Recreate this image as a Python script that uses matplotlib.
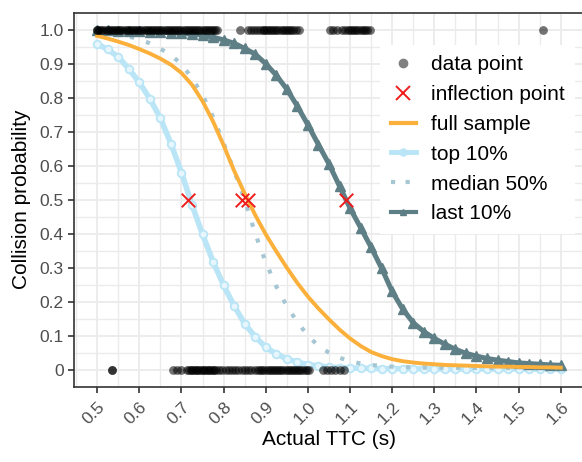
import numpy as np
import matplotlib
matplotlib.use("Agg")
import matplotlib.pyplot as plt
from matplotlib.lines import Line2D

plt.rcParams['font.family'] = ['Liberation Sans', 'DejaVu Sans']

ttc = np.round(np.arange(0.5, 1.6001, 0.025), 3)

full_sample = [0.982, 0.974, 0.965, 0.955, 0.943, 0.930, 0.915, 0.897, 0.873, 0.838,
               0.790, 0.730, 0.660, 0.585, 0.518, 0.455, 0.398, 0.348, 0.300, 0.255,
               0.215, 0.180, 0.148, 0.118, 0.092, 0.070, 0.052, 0.040, 0.031, 0.025,
               0.021, 0.018, 0.016, 0.014, 0.013, 0.012, 0.011, 0.010, 0.009, 0.009,
               0.008, 0.008, 0.007, 0.007, 0.006]

top_10 = [0.958, 0.942, 0.920, 0.885, 0.845, 0.797, 0.740, 0.665, 0.580, 0.485,
          0.398, 0.318, 0.248, 0.188, 0.135, 0.097, 0.066, 0.046, 0.032, 0.022,
          0.015, 0.011, 0.008, 0.006, 0.005, 0.004, 0.004, 0.003, 0.003, 0.003,
          0.003, 0.002, 0.002, 0.002, 0.002, 0.002, 0.002, 0.002, 0.002, 0.002,
          0.002, 0.002, 0.002, 0.002, 0.002]

median_50 = [0.993, 0.990, 0.985, 0.980, 0.972, 0.960, 0.944, 0.926, 0.898, 0.858,
             0.808, 0.743, 0.667, 0.585, 0.500, 0.400, 0.316, 0.245, 0.187, 0.140,
             0.100, 0.070, 0.050, 0.035, 0.025, 0.018, 0.014, 0.011, 0.009, 0.008,
             0.007, 0.006, 0.006, 0.006, 0.006, 0.005, 0.005, 0.005, 0.005, 0.005,
             0.005, 0.005, 0.005, 0.005, 0.005]

last_10 = [0.998, 0.998, 0.997, 0.996, 0.995, 0.994, 0.993, 0.991, 0.989, 0.987,
           0.984, 0.978, 0.970, 0.960, 0.945, 0.928, 0.900, 0.866, 0.825, 0.775,
           0.720, 0.662, 0.605, 0.540, 0.475, 0.418, 0.360, 0.298, 0.230, 0.178,
           0.138, 0.112, 0.092, 0.075, 0.060, 0.048, 0.040, 0.033, 0.028, 0.024,
           0.020, 0.018, 0.016, 0.014, 0.013]

# inflection points (x, y)
infl_x = [0.716, 0.843, 0.858, 1.090]
infl_y = [0.5, 0.5, 0.5, 0.5]

# observed cases: collision (1) and no collision (0)
hit_x = [0.500, 0.500, 0.505, 0.510, 0.515, 0.520, 0.525, 0.530, 0.535, 0.540,
         0.545, 0.550, 0.555, 0.560, 0.565, 0.570, 0.575, 0.580, 0.585, 0.590,
         0.595, 0.600, 0.605, 0.610, 0.615, 0.620, 0.625, 0.630, 0.635, 0.640,
         0.645, 0.650, 0.655, 0.660, 0.665, 0.670, 0.675, 0.680, 0.685, 0.690,
         0.695, 0.700, 0.705, 0.710, 0.715, 0.720, 0.725, 0.730, 0.735, 0.740,
         0.745, 0.750, 0.755, 0.760, 0.765, 0.770, 0.775, 0.780, 0.785,
         0.838, 0.858, 0.866, 0.873, 0.880, 0.886, 0.893, 0.897, 0.900, 0.905,
         0.910, 0.915, 0.920, 0.925, 0.930, 0.935, 0.940, 0.945, 0.950, 0.955,
         0.960, 0.965, 0.972, 0.980,
         1.052, 1.060, 1.068, 1.080, 1.088, 1.095, 1.100, 1.105, 1.110, 1.115,
         1.120, 1.125, 1.130, 1.135, 1.140, 1.147, 1.557]
miss_x = [0.535, 0.535, 0.680, 0.690, 0.700, 0.712, 0.718, 0.722, 0.726, 0.730,
          0.734, 0.738, 0.742, 0.746, 0.750, 0.754, 0.758, 0.762, 0.766, 0.770,
          0.774, 0.778, 0.782, 0.790, 0.797, 0.805, 0.812, 0.820, 0.828, 0.835,
          0.843, 0.850, 0.858, 0.866, 0.874, 0.882, 0.887, 0.892, 0.897, 0.902,
          0.907, 0.912, 0.917, 0.922, 0.927, 0.932, 0.937, 0.942, 0.947, 0.952,
          0.957, 0.962, 0.967, 0.972, 0.977, 0.982, 0.987, 0.992, 0.997, 1.002,
          1.035, 1.045, 1.055, 1.065, 1.075, 1.085]

c_full = '#fbb03b'
c_top = '#b9e5f6'
c_med = '#a5c6d3'
c_last = '#5f7f87'

fig = plt.figure(figsize=(5.82, 4.62), dpi=100)
ax = fig.add_axes([0.1271, 0.163, 0.8763, 0.8095])

ax.plot(ttc, top_10, color=c_top, lw=4, marker='o', ms=5.5, mfc='#e6f6fc',
        mec=c_top, mew=1.3, zorder=2)
ax.plot(ttc, median_50, color=c_med, lw=3, dashes=(1, 3), dash_capstyle='butt', zorder=2)
ax.plot(ttc, full_sample, color=c_full, lw=2.8, zorder=3)
ax.plot(ttc, last_10, color=c_last, lw=3.6, marker='^', ms=6.5, mec=c_last, zorder=2)

ax.scatter(hit_x, np.ones(len(hit_x)), s=40, color='black', alpha=0.55, lw=0, zorder=4)
ax.scatter(miss_x, np.zeros(len(miss_x)), s=40, color='black', alpha=0.55, lw=0, zorder=4)
ax.scatter(infl_x, infl_y, marker='x', s=95, color='#ee1c1c', lw=1.4, zorder=5)

ax.set_xlim(0.445, 1.655)
ax.set_ylim(-0.05, 1.05)
xt = np.arange(0.5, 1.61, 0.1)
ax.set_xticks(xt)
ax.set_xticklabels(['%.1f' % v for v in xt])
ax.set_xticks(np.arange(0.45, 1.66, 0.1), minor=True)
yt = np.arange(0, 1.01, 0.1)
ax.set_yticks(yt)
ax.set_yticklabels(['0'] + ['%.1f' % v for v in yt[1:]])
ax.set_yticks(np.arange(0.05, 1.0, 0.1), minor=True)

ax.grid(True, which='major', color='#ebebeb', lw=1.3, zorder=0)
ax.grid(True, which='minor', color='#ebebeb', lw=1.0, zorder=0)
ax.set_axisbelow(True)

ax.tick_params(which='major', length=4, width=1.2, color='#333333',
               labelcolor='#4d4d4d', labelsize=12.5)
ax.tick_params(axis='x', which='major', pad=5)
ax.tick_params(which='minor', length=0)
for lab in ax.get_xticklabels():
    lab.set_rotation(45)
    lab.set_ha('right')
    lab.set_rotation_mode('anchor')

for side in ['left', 'bottom', 'top']:
    ax.spines[side].set_color('#333333')
    ax.spines[side].set_linewidth(1.2)
ax.spines['right'].set_visible(False)

ax.set_xlabel('Actual TTC (s)', fontsize=15, labelpad=2)
ax.set_ylabel('Collision probability', fontsize=15, labelpad=6)

handles = [
    Line2D([], [], ls='none', marker='o', ms=6, color='grey'),
    Line2D([], [], ls='none', marker='x', ms=10, mew=1.4, color='#ee1c1c'),
    Line2D([], [], color=c_full, lw=3),
    Line2D([], [], color=c_top, lw=3.5, marker='o', ms=5),
    Line2D([], [], color=c_med, lw=3, dashes=(1, 2.5)),
    Line2D([], [], color=c_last, lw=3, marker='^', ms=5),
]
labels = ['data point', 'inflection point', 'full sample', 'top 10%',
          'median 50%', 'last 10%']
leg = ax.legend(handles, labels, loc='upper left', bbox_to_anchor=(0.58, 0.942),
                fontsize=15, frameon=True, facecolor='white', edgecolor='none',
                framealpha=1, handlelength=1.2, handletextpad=0.75,
                labelspacing=0.52, borderpad=0.5, fancybox=False)
leg.set_zorder(6)

fig.savefig('out.png', dpi=100)
